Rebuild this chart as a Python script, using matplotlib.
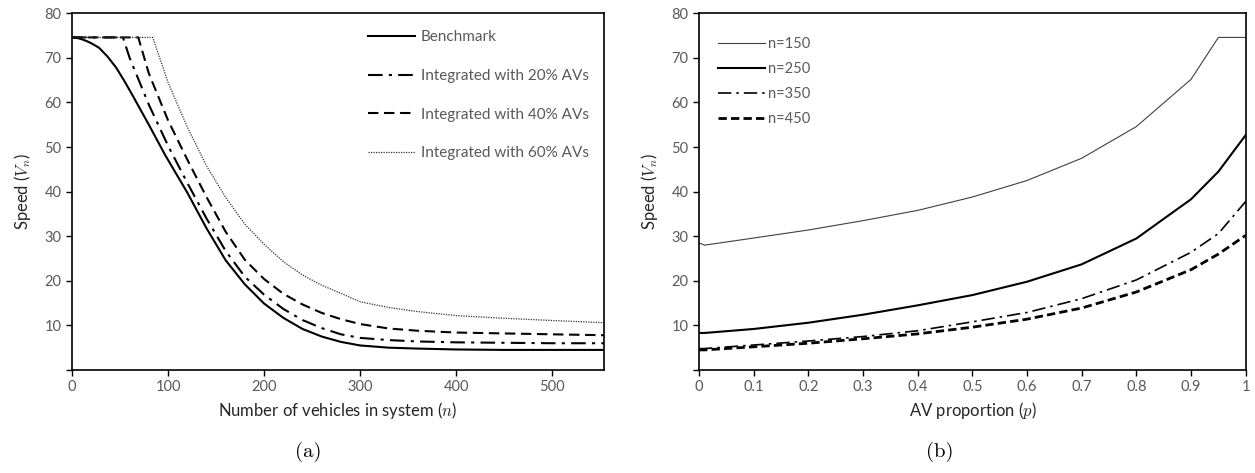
import matplotlib
matplotlib.use("Agg")
import matplotlib.pyplot as plt

plt.rcParams["font.family"] = ["Lato", "DejaVu Sans"]
plt.rcParams["mathtext.fontset"] = "cm"

GREY = "#595959"
LABEL = "#262626"

# (a) speed vs number of vehicles
n_bench = [0, 5, 10, 15, 20, 28, 37, 46, 54, 62, 80, 97, 120, 140, 160, 180, 200, 220, 240, 260, 280, 300, 330, 360, 400, 450, 500, 554]
v_bench = [74.6, 74.5, 74.2, 73.8, 73.3, 72.3, 70.3, 67.8, 65.0, 62.0, 55.0, 48.2, 39.8, 31.8, 24.6, 19.2, 14.9, 11.7, 9.2, 7.5, 6.3, 5.5, 5.0, 4.8, 4.6, 4.5, 4.5, 4.5]
n_av20 = [0, 53, 60, 80, 100, 120, 140, 160, 180, 200, 220, 240, 260, 280, 300, 330, 360, 400, 450, 500, 554]
v_av20 = [74.6, 74.6, 70.0, 59.5, 50.3, 42.0, 34.0, 26.7, 20.9, 16.9, 13.7, 11.2, 9.4, 8.0, 7.2, 6.7, 6.4, 6.2, 6.1, 6.0, 6.0]
n_av40 = [0, 69, 80, 100, 120, 140, 160, 180, 200, 220, 240, 260, 280, 300, 330, 360, 400, 450, 500, 554]
v_av40 = [74.6, 74.6, 66.5, 56.0, 47.2, 38.8, 31.0, 24.7, 20.4, 17.1, 14.7, 12.8, 11.4, 10.3, 9.3, 8.8, 8.4, 8.2, 8.0, 7.8]
n_av60 = [0, 84, 100, 120, 140, 160, 180, 200, 220, 240, 260, 280, 300, 330, 360, 400, 450, 500, 554]
v_av60 = [74.6, 74.6, 64.5, 54.5, 45.8, 38.7, 32.7, 28.2, 24.3, 21.3, 19.0, 17.2, 15.3, 14.0, 13.1, 12.2, 11.6, 11.1, 10.6]

# (b) speed vs AV proportion
p = [0, 0.01, 0.1, 0.2, 0.3, 0.4, 0.5, 0.6, 0.7, 0.8, 0.9, 0.95, 1.0]
v_n150 = [28.5, 28.0, 29.6, 31.4, 33.5, 35.8, 38.8, 42.5, 47.5, 54.6, 65.2, 74.6, 74.6]
v_n250 = [8.3, 8.3, 9.2, 10.6, 12.4, 14.5, 16.8, 19.8, 23.7, 29.5, 38.3, 44.5, 52.7]
v_n350 = [4.8, 4.8, 5.6, 6.5, 7.5, 8.8, 10.8, 12.9, 16.0, 20.2, 26.4, 30.6, 37.8]
v_n450 = [4.5, 4.5, 5.2, 6.0, 7.0, 8.1, 9.6, 11.4, 13.9, 17.5, 22.5, 26.0, 30.2]

fig = plt.figure(figsize=(12.55, 4.73), dpi=100)
ax1 = fig.add_axes([0.0574, 0.2178, 0.4239, 0.754])
ax2 = fig.add_axes([0.557, 0.2178, 0.4356, 0.754])

ax1.plot(n_bench, v_bench, color="black", lw=1.5, label="Benchmark")
ax1.plot(n_av20, v_av20, color="black", lw=1.5, ls=(0, (7, 3, 1.5, 3)), label="Integrated with 20% AVs")
ax1.plot(n_av40, v_av40, color="black", lw=1.5, ls=(0, (5, 2.7)), label="Integrated with 40% AVs")
ax1.plot(n_av60, v_av60, color="#333333", lw=0.9, ls=(0, (1, 1)), label="Integrated with 60% AVs")
ax1.set_xlim(0, 554)
ax1.set_xticks([0, 100, 200, 300, 400, 500])
ax1.set_xlabel("Number of vehicles in system ($\\mathit{n}$)", fontsize=12, color=LABEL, labelpad=4)
ax1.legend(loc="upper left", bbox_to_anchor=(0.556, 0.953), frameon=False, fontsize=11,
           borderpad=0, borderaxespad=0, handlelength=3.1, handletextpad=0.35,
           labelspacing=1.62, labelcolor=GREY)

ax2.plot(p, v_n150, color="#404040", lw=0.8, label="n=150")
ax2.plot(p, v_n250, color="black", lw=1.5, label="n=250")
ax2.plot(p, v_n350, color="black", lw=1.2, ls=(0, (8, 3, 1.5, 3)), label="n=350")
ax2.plot(p, v_n450, color="black", lw=2.0, ls=(0, (3, 1.5)), label="n=450")
ax2.set_xlim(0, 1)
ax2.set_xticks([i / 10 for i in range(11)])
ax2.set_xticklabels(["0"] + [f"{i / 10:.1f}" for i in range(1, 10)] + ["1"])
ax2.set_xlabel("AV proportion ($\\mathit{p}$)", fontsize=12, color=LABEL, labelpad=4)
ax2.legend(loc="upper left", bbox_to_anchor=(0.035, 0.934), frameon=False, fontsize=10.5,
           borderpad=0, borderaxespad=0, handlelength=3.2, handletextpad=0.2,
           labelspacing=0.76, labelcolor=GREY)

for ax in (ax1, ax2):
    ax.set_ylim(0, 80)
    ax.set_yticks(range(0, 81, 10))
    ax.set_yticklabels([""] + [str(v) for v in range(10, 81, 10)])
    ax.set_ylabel("Speed ($V_n$)", fontsize=12, color=LABEL, labelpad=8)
    ax.tick_params(labelsize=10.5, labelcolor=GREY, length=4, width=1, direction="out")
    for s in ax.spines.values():
        s.set_linewidth(1.2)
        s.set_color("black")

fig.text(0.246, 0.045, "(a)", fontsize=15, family="cmr10", ha="center", va="center")
fig.text(0.749, 0.045, "(b)", fontsize=15, family="cmr10", ha="center", va="center")

fig.savefig("out.png", dpi=100)
